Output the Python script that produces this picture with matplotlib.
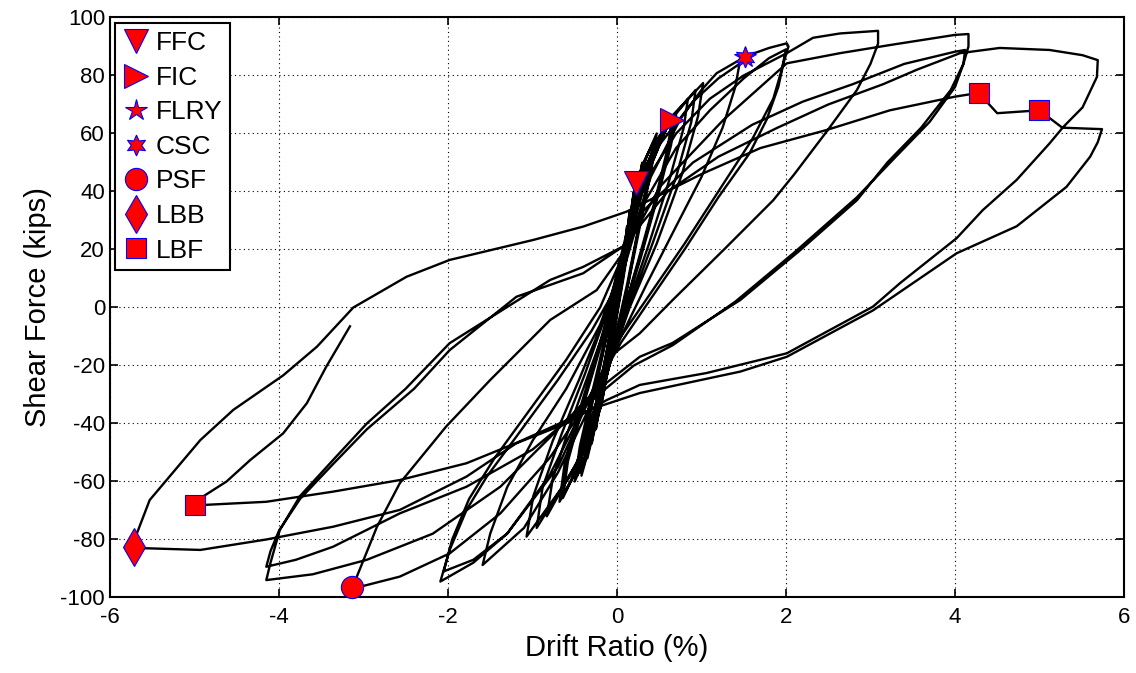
import numpy as np
import matplotlib
matplotlib.use("Agg")
import matplotlib.pyplot as plt

plt.rcParams["font.family"] = ["Liberation Sans", "DejaVu Sans"]
plt.rcParams["axes.unicode_minus"] = False

# ---------------------------------------------------------------------------
# Hysteresis path as (drift %, shear kips) vertices.
# Stages follow the loading protocol, in order.
# ---------------------------------------------------------------------------

# small elastic cycles
drift_s0 = [0, 0.06, 0.12, 0.08, 0.0, -0.08, -0.15, -0.1, -0.02, 0.06, 0.15, 0.1, 0.02, -0.1, -0.2,
            -0.14, -0.04, 0.08, 0.2, 0.14, 0.04, -0.1, -0.25, -0.18, -0.06, 0.08, 0.22, 0.16, 0.05,
            -0.12, -0.3, -0.22, -0.08, 0.1, 0.25, 0.18, 0.06, -0.14, -0.35, -0.26, -0.1, 0.1, 0.3,
            0.22, 0.08, -0.16, -0.4, -0.3, -0.12, 0.05, 0.18, 0.27, 0.2, 0.07, -0.18, -0.42, -0.33,
            -0.15, 0.05]
force_s0 = [0, 14, 28, 16, 0, -15, -28, -16, -3, 12, 33, 20, 4, -18, -35,
            -22, -6, 16, 40, 26, 6, -18, -42, -28, -8, 17, 43, 30, 8,
            -22, -47, -32, -10, 22, 46, 32, 10, -26, -52, -36, -12, 22, 50,
            36, 12, -30, -55, -40, -15, 12, 35, 47, 33, 9, -33, -58, -44,
            -20, 12]

# 0.5 % cycles
drift_s1 = [0.05, 0.2, 0.32, 0.43, 0.38, 0.27, 0.12, -0.05, -0.22, -0.35, -0.44, -0.38, -0.27, -0.12,
            0.05, 0.22, 0.35, 0.47, 0.41, 0.3, 0.14, -0.05, -0.24, -0.38, -0.5, -0.44, -0.3, -0.12,
            0.05, 0.2, 0.33, 0.45, 0.4, 0.28, 0.13, -0.05, -0.23, -0.37, -0.47, -0.41, -0.28, -0.12,
            0.05]
force_s1 = [12, 36, 50, 57, 46, 30, 8, -14, -36, -50, -57, -46, -30, -10,
            12, 38, 52, 60, 48, 32, 9, -15, -38, -52, -60, -48, -30, -8,
            14, 37, 51, 58, 47, 31, 8, -15, -37, -51, -58, -47, -30, -9,
            14]

# 0.75 % cycles
drift_s2 = [0.05, 0.25, 0.45, 0.65, 0.6, 0.46, 0.25, 0.05, -0.2, -0.45, -0.64, -0.58, -0.42, -0.18,
            0.05, 0.28, 0.5, 0.7, 0.64, 0.5, 0.28, 0.06, -0.2, -0.47, -0.68, -0.62, -0.45, -0.2,
            0.05, 0.27, 0.48, 0.67, 0.62, 0.48, 0.27, 0.05, -0.2, -0.46, -0.66, -0.6, -0.43, -0.19,
            0.05]
force_s2 = [14, 42, 56, 64.7, 55, 38, 16, -4, -30, -54, -65.7, -53, -36, -12,
            14, 44, 59, 66.5, 56, 40, 17, -4, -32, -56, -67, -54, -36, -12,
            14, 43, 58, 65.5, 55, 39, 17, -4, -31, -55, -66, -53, -36, -12,
            14]

# 1 % cycles
drift_s3 = [0.05, 0.3, 0.55, 0.84, 0.79, 0.62, 0.38, 0.12, -0.15, -0.45, -0.83, -0.76, -0.56, -0.3,
            0.0, 0.3, 0.65, 1.02, 0.96, 0.77, 0.47, 0.15, -0.15, -0.5, -1.07, -0.99, -0.76, -0.45,
            -0.1, 0.3, 0.62, 0.93, 0.88, 0.7, 0.42, 0.14, -0.15, -0.48, -0.95, -0.88, -0.66, -0.38,
            -0.1]
force_s3 = [14, 44, 62, 72, 62, 44, 22, 0, -24, -52, -72, -59, -41, -20,
            4, 42, 66, 77.4, 66, 46, 22, 0, -25, -56, -79, -65, -46, -25,
            0, 43, 64, 75, 64, 45, 22, 0, -25, -54, -76, -62, -44, -23,
            0]

# 1.5 % cycle
drift_s4 = [-0.1, 0.15, 0.5, 0.9, 1.2, 1.45, 1.4, 1.25, 1.0, 0.7, 0.35, 0.0, -0.35, -0.7, -1.1,
            -1.59, -1.5, -1.3, -1.0, -0.6, -0.2, 0.1]
force_s4 = [0, 30, 56, 71, 79, 84, 76, 62, 45, 28, 8, -13, -36, -57, -76,
            -88.8, -78, -62, -46, -28, -6, 18]

# 2 % cycles
drift_s5 = [0.1, 0.4, 0.75, 1.0, 1.18, 1.53, 1.8, 2.01, 2.03, 1.97, 1.91, 1.77, 1.57, 1.2, 0.8, 0.4,
            0.05, -0.3, -0.7, -1.3, -1.7, -2.09, -1.98, -1.78, -1.54, -1.19, -0.7, -0.3, 0.05,
            0.3, 0.7, 1.1, 1.5, 1.8, 2.0, 1.95, 1.85, 1.6, 1.2, 0.8, 0.4, 0.0, -0.4, -0.8, -1.3,
            -1.7, -2.05, -1.95, -1.75, -1.45, -1.1, -0.6, -0.2, 0.1]
force_s5 = [18, 45, 65, 75, 80.8, 86.7, 89.5, 91.1, 90, 84.2, 76.1, 64.7, 53.2, 38, 20, 3,
            -12, -30, -55, -78, -88, -94.5, -83.6, -69.8, -58.3, -44.5, -25, -8, 10,
            35, 55, 68, 79, 86, 89, 82, 72, 58, 40, 22, 5, -12, -35, -58, -78,
            -87, -91, -80, -66, -52, -38, -18, 0, 20]

# 3 % cycle
drift_s6 = [0.1, 0.35, 0.7, 1.1, 1.5, 2.01, 2.32, 2.64, 3.09, 3.09, 3.0, 2.84, 2.49, 2.1, 1.85, 1.26,
            0.66, 0.27, -0.04, -0.4, -0.8, -1.38, -1.98, -2.57, -3.0, -3.13, -3.07, -2.84, -2.57,
            -2.02, -1.5, -0.79, -0.24, 0.1]
force_s6 = [20, 44, 60, 72, 80, 87.7, 93, 94.5, 95.4, 91, 84, 75, 61, 46, 37, 19.8,
            2.6, -8.9, -16, -35, -52, -71, -84.8, -92.8, -96, -96.3, -92.2, -75.6, -60.6,
            -41, -25, -4.3, 6, 20]

# 4 % cycles
drift_s7 = [0.1, 0.51, 1.26, 2.01, 2.64, 3.23, 4.0, 4.16, 4.16, 4.1, 3.95, 3.6, 3.2, 2.84, 2.17, 1.46,
            0.66, 0.27, -0.3, -0.8, -1.38, -2.18, -2.96, -3.6, -4.15, -4.1, -3.99, -3.75, -3.36,
            -2.96, -2.5, -1.98, -1.2, -0.79, -0.4, 0.07,
            0.3, 0.9, 1.6, 2.2, 2.79, 3.4, 4.0, 4.12, 4.1, 4.0, 3.7, 3.3, 2.84, 2.1, 1.4, 0.66, 0.2,
            -0.3, -1.0, -1.78, -2.57, -3.36, -3.8, -4.15, -4.1, -4.0, -3.75, -3.36, -2.96, -2.4,
            -1.98, -1.19, -0.4, 0.07]
force_s7 = [20, 41.7, 64.7, 84.2, 87.7, 90.5, 94, 94.3, 90, 84, 75, 62, 50, 37, 19.8, 2.6,
            -12.2, -17, -30, -45, -61.8, -78, -87, -92, -94, -88, -76.7, -65, -52.6,
            -40, -28, -12.3, 2, 9.5, 14, 21,
            33, 50, 63, 71, 77, 84, 88.2, 88.8, 84, 76, 64, 52, 38, 19, 2, -13, -20,
            -32, -49, -61.8, -71, -82.5, -87, -89.4, -84, -77, -66, -54, -42, -28,
            -14.7, 3.7, 11.8, 21]

# 5.7 % cycle
drift_s8 = [0.07, 0.6, 1.2, 1.9, 2.5, 3.15, 3.55, 4.06, 4.53, 5.12, 5.51, 5.69, 5.68, 5.51, 5.28,
            5.12, 4.73, 4.33, 4.02, 3.35, 3.03, 2.01, 1.06, 0.27, -0.12, -0.6, -1.19, -1.78, -2.57,
            -3.36, -4.15, -4.93, -5.6, -5.72]
force_s8 = [21, 40, 52, 62, 70, 77, 82, 87.7, 89.5, 88.8, 87, 85.3, 79.5, 69, 62.2,
            56.6, 44, 33.6, 23.9, 8.4, 0.3, -15.8, -22.6, -26.7, -31.9, -40, -46.8, -58.3, -69.8,
            -75.6, -80, -83.6, -83, -82.5]

# final cycle with strength loss
drift_s9 = [-5.72, -5.68, -5.53, -5.33, -4.93, -4.54, -3.95, -3.55, -3.12, -2.49, -1.98, -0.99, -0.4,
            0.11, 1.0, 1.7, 2.48, 3.23, 4.0, 4.28, 4.5, 5.0, 5.27, 5.74, 5.69, 5.6, 5.32, 4.73, 4.02,
            3.03, 2.01, 1.46, 0.27, -0.3, -1.19, -1.78, -2.57, -3.36, -4.15, -4.9, -4.99, -4.9,
            -4.62, -4.34, -3.95, -3.67, -3.44, -3.16]
force_s9 = [-82.5, -77.8, -66.4, -59.5, -45.7, -35.3, -23.4, -13.5, 0, 10.6, 16.4, 23.3, 27.9,
            33, 46, 55, 61.2, 68, 72.7, 74, 67, 68, 62, 61.5, 57, 52, 41.6, 28, 18.7,
            -1, -17, -22.1, -29.5, -35, -46.7, -53.7, -59.5, -63.5, -67, -68.1, -68.1, -65.2,
            -60, -52.6, -43.4, -33, -20.4, -6.5]

# damage-state markers
ffc = (0.22, 43)
fic = (0.65, 64.7)
flry = (1.52, 86.5)
csc = (1.52, 86.5)
psf = (-3.13, -96.3)
lbb = (-5.72, -82.5)
lbf_drift = [4.28, 5.0, -4.99]
lbf_force = [74, 68.1, -68.1]

drift = np.concatenate([drift_s0, drift_s1, drift_s2, drift_s3, drift_s4,
                        drift_s5, drift_s6, drift_s7, drift_s8, drift_s9])
force = np.concatenate([force_s0, force_s1, force_s2, force_s3, force_s4,
                        force_s5, force_s6, force_s7, force_s8, force_s9])

fig = plt.figure(figsize=(11.36, 6.73), dpi=100)
ax = fig.add_axes([0.0968, 0.1122, 0.8926, 0.8618])

ax.plot(drift, force, color="black", lw=1.7, solid_joinstyle="round", zorder=2)

mk = dict(linestyle="none", markerfacecolor="red", markeredgecolor="blue",
          markeredgewidth=0.8, clip_on=False, zorder=5)
ax.plot(*ffc, marker="v", markersize=17, label="FFC", **mk)
ax.plot(*fic, marker=">", markersize=17, label="FIC", **mk)
ax.plot(*flry, marker="*", markersize=16, label="FLRY", **mk)
ax.plot(*csc, marker=(6, 1, 0), markersize=15, label="CSC", **mk)
ax.plot(*psf, marker="o", markersize=16, label="PSF", **mk)
ax.plot(*lbb, marker="d", markersize=19, label="LBB", **mk)
ax.plot(lbf_drift, lbf_force, marker="s", markersize=14, label="LBF", **mk)

ax.set_xlim(-6, 6)
ax.set_ylim(-100, 100)
ax.set_xticks(np.arange(-6, 7, 2))
ax.set_yticks(np.arange(-100, 101, 20))
ax.grid(True, linestyle=(0, (1, 3)), color="black", linewidth=0.8)
ax.tick_params(direction="in", top=True, right=True, length=6, width=1.2, labelsize=16)
ax.tick_params(axis="x", pad=7)
for s in ax.spines.values():
    s.set_linewidth(1.5)

ax.set_xlabel("Drift Ratio (%)", fontsize=21, labelpad=4)
ax.set_ylabel("Shear Force (kips)", fontsize=21, labelpad=6)

leg = ax.legend(loc="upper left", bbox_to_anchor=(0.005, 0.99), borderaxespad=0,
                fontsize=19, handlelength=1.0, handletextpad=0.25, labelspacing=0.4,
                borderpad=0.3, fancybox=False, framealpha=1, edgecolor="black",
                numpoints=1)
leg.get_frame().set_linewidth(1.5)

fig.savefig("out.png", dpi=100)
